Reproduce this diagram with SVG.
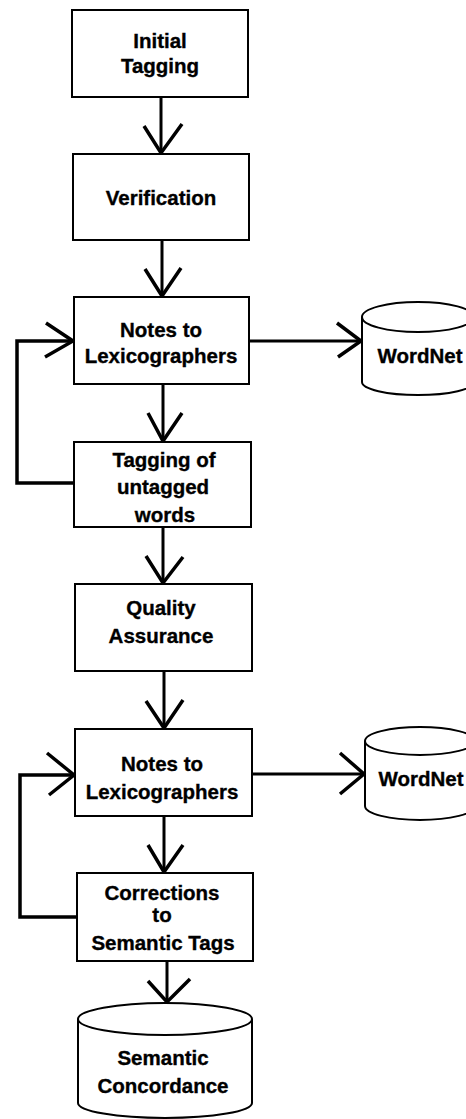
<svg xmlns="http://www.w3.org/2000/svg" width="466" height="1119" viewBox="0 0 466 1119">
  <style>
    .box { fill: #fff; stroke: #000; stroke-width: 2; }
    .db { fill: #fff; stroke: #000; stroke-width: 2; }
    .lbl { font-family: "Liberation Sans", Arial, Helvetica, sans-serif; font-weight: bold; font-size: 20.5px; fill: #000; stroke: #000; stroke-width: 0.35; text-anchor: middle; }
    .wire { fill: none; stroke: #000; stroke-width: 3; stroke-linejoin: miter; }
    .loop { fill: none; stroke: #000; stroke-width: 3.5; stroke-linejoin: miter; }
    .head { fill: none; stroke: #000; stroke-width: 3.5; stroke-linejoin: miter; stroke-linecap: butt; }
  </style>
  <rect width="466" height="1119" fill="#fff"/>

  <!-- connectors -->
  <g id="connectors">
    <line class="wire" x1="161" y1="97" x2="161" y2="153"/>
    <polyline class="head" points="144,126 161,153 182,124"/>

    <line class="wire" x1="162" y1="240" x2="162" y2="296"/>
    <polyline class="head" points="145,269 162,296 181,268"/>

    <line class="wire" x1="163" y1="384" x2="163" y2="441"/>
    <polyline class="head" points="148,413 163,441 182,413"/>

    <line class="wire" x1="163" y1="527" x2="163" y2="583"/>
    <polyline class="head" points="146,556 163,583 183,557"/>

    <line class="wire" x1="164" y1="671" x2="164" y2="728"/>
    <polyline class="head" points="146,701 164,728 183,700"/>

    <line class="wire" x1="164" y1="816" x2="164" y2="872"/>
    <polyline class="head" points="148,845 164,872 183,845"/>

    <line class="wire" x1="167" y1="961" x2="167" y2="1002"/>
    <polyline class="head" points="148,981 167,1002 190,979"/>

    <!-- to WordNet -->
    <line class="wire" x1="249" y1="341" x2="361" y2="341"/>
    <polyline class="head" points="337,323 361,341 338,357"/>

    <line class="wire" x1="252" y1="774" x2="364" y2="774"/>
    <polyline class="head" points="340,753 364,774 340,794"/>

    <!-- feedback loops -->
    <polyline class="loop" points="74,483 17,483 17,341 73,341"/>
    <polyline class="head" points="46,323 73,341 45,357"/>

    <polyline class="loop" points="77,917 20,917 20,775 74,775"/>
    <polyline class="head" points="47,753 74,775 49,795"/>
  </g>

  <g id="initial-tagging">
    <rect class="box" x="72" y="10" width="176" height="87"/>
    <text class="lbl" x="160" y="48">Initial</text>
    <text class="lbl" x="160" y="73">Tagging</text>
  </g>

  <g id="verification">
    <rect class="box" x="73" y="154" width="176" height="86"/>
    <text class="lbl" x="161" y="205">Verification</text>
  </g>

  <g id="notes-1">
    <rect class="box" x="74" y="297" width="175" height="87"/>
    <text class="lbl" x="161" y="337">Notes to</text>
    <text class="lbl" x="161" y="363">Lexicographers</text>
  </g>

  <g id="tagging-untagged">
    <rect class="box" x="74" y="442" width="177" height="85"/>
    <text class="lbl" x="164" y="467">Tagging of</text>
    <text class="lbl" x="163" y="494">untagged</text>
    <text class="lbl" x="165" y="522">words</text>
  </g>

  <g id="quality-assurance">
    <rect class="box" x="75" y="584" width="177" height="87"/>
    <text class="lbl" x="161" y="615">Quality</text>
    <text class="lbl" x="161" y="643">Assurance</text>
  </g>

  <g id="notes-2">
    <rect class="box" x="75" y="729" width="177" height="87"/>
    <text class="lbl" x="162" y="771">Notes to</text>
    <text class="lbl" x="162" y="799">Lexicographers</text>
  </g>

  <g id="corrections">
    <rect class="box" x="77" y="873" width="176" height="88"/>
    <text class="lbl" x="162" y="900">Corrections</text>
    <text class="lbl" x="162" y="922">to</text>
    <text class="lbl" x="163" y="950">Semantic Tags</text>
  </g>

  <g id="wordnet-1">
    <path class="db" d="M362,317 L362,382 A56,13 0 0 0 474,382 L474,317"/>
    <ellipse class="db" cx="418" cy="317" rx="56" ry="15"/>
    <text class="lbl" x="420" y="363">WordNet</text>
  </g>

  <g id="wordnet-2">
    <path class="db" d="M365,741 L365,806 A55,14 0 0 0 475,806 L475,741"/>
    <ellipse class="db" cx="420" cy="741" rx="55" ry="14"/>
    <text class="lbl" x="421" y="786">WordNet</text>
  </g>

  <g id="semantic-concordance">
    <path class="db" d="M78,1019 L78,1103 A87,15 0 0 0 252,1103 L252,1019"/>
    <ellipse class="db" cx="165" cy="1019" rx="87" ry="16"/>
    <text class="lbl" x="163" y="1065">Semantic</text>
    <text class="lbl" x="163" y="1093">Concordance</text>
  </g>
</svg>
